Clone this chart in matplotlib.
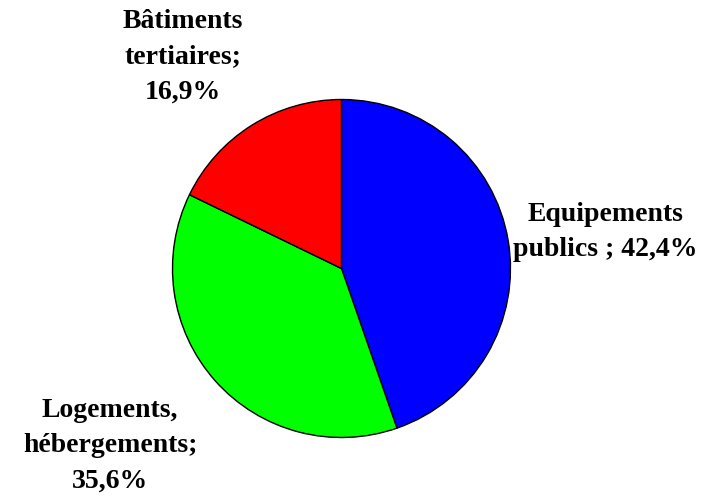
import matplotlib.pyplot as plt

# Data
labels = ['Equipements\npublics ; 42,4%', 'Logements,\nhébergements;\n35,6%', 'Bâtiments\ntertiaires;\n16,9%']
values = [42.4, 35.6, 16.9]
colors = ['#0000ff', '#00ff00', '#ff0000']

W, H = 713, 497
fig = plt.figure(figsize=(W / 100, H / 100), dpi=100)
ax = fig.add_axes([0, 0, 1, 1])
ax.axis('off')

ax.pie(values, colors=colors, startangle=90, counterclock=False,
       center=(341.5, H - 268.5), radius=169,
       wedgeprops=dict(edgecolor='black', linewidth=1))
ax.set_xlim(0, W)
ax.set_ylim(0, H)
ax.set_aspect('equal')

# Label positions (pixels, from top-left)
label_pos = [(605, 232), (110, 446), (183, 57)]
for text, (x, y) in zip(labels, label_pos):
    ax.text(x, H - y, text, ha='center', va='center', fontsize=20,
            fontweight='bold', family='Liberation Serif', linespacing=1.55)

fig.savefig('out.png', dpi=100)
